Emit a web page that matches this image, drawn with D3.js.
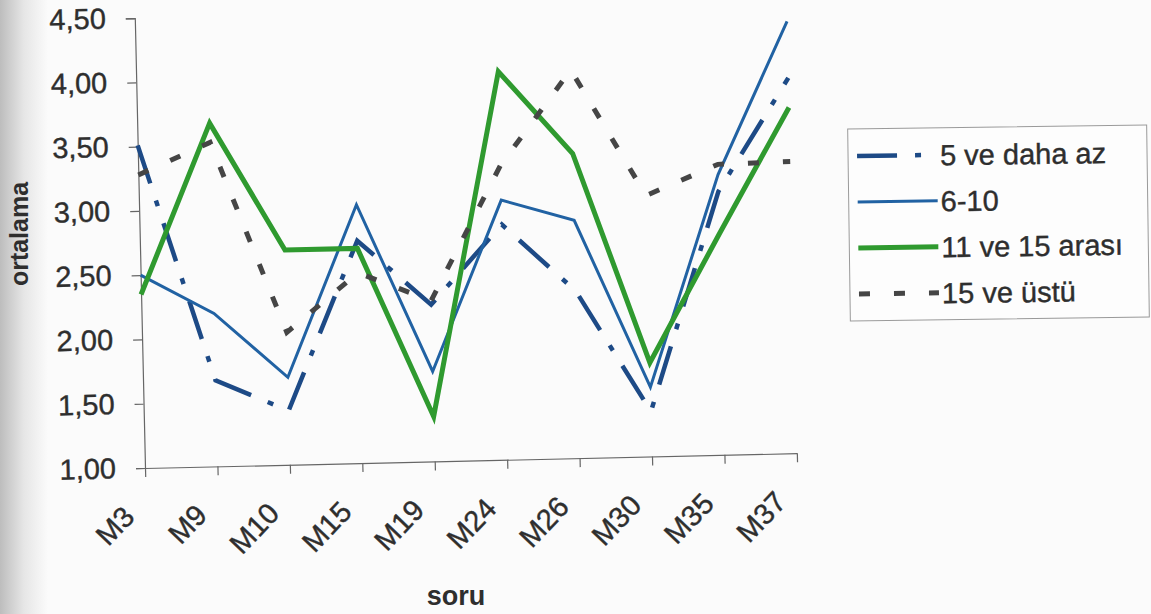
<!DOCTYPE html>
<html><head><meta charset="utf-8">
<script src="https://cdn.jsdelivr.net/npm/d3@7"></script>
<style>html,body{margin:0;padding:0;background:#fbfbfb;}svg{display:block;font-family:Arial,"Liberation Sans",sans-serif;}</style>
</head><body>
<svg id="c" width="1151" height="614"></svg>
<script>
const categories = ["M3","M9","M10","M15","M19","M24","M26","M30","M35","M37"];
const s5veDahaAz = [3.51,1.67,1.42,2.73,2.22,2.83,2.30,1.35,3.05,3.92];
const s6to10     = [2.50,2.19,1.68,3.01,1.70,3.02,2.85,1.54,3.18,4.36];
const s11to15    = [2.35,3.67,2.67,2.67,1.35,4.02,3.37,1.73,2.72,3.69];
const s15Ustu    = [3.28,3.52,2.03,2.48,2.25,3.29,4.02,3.03,3.26,3.27];
const seriesNames = ["5 ve daha az","6-10","11 ve 15 arası","15 ve üstü"];
const yTicks = [1.00,1.50,2.00,2.50,3.00,3.50,4.00,4.50];
const yTitle = "ortalama", xTitle = "soru";

const styles = [
  {color:"#1d4a86", width:4.5, dash:"40,18,6,18"},
  {color:"#2162a3", width:3, dash:null},
  {color:"#2f9a2f", width:5, dash:null},
  {color:"#454545", width:5, dash:"11,24"}
];
const seriesData = [s5veDahaAz, s6to10, s11to15, s15Ustu];
const textColor = "#2e2e2e";

const svg = d3.select("#c");
const defs = svg.append("defs");
const grad = defs.append("linearGradient").attr("id","shade").attr("x1","0").attr("x2","1");
grad.append("stop").attr("offset","0").attr("stop-color","#bdbdbd");
grad.append("stop").attr("offset","0.5").attr("stop-color","#e6e6e6");
grad.append("stop").attr("offset","1").attr("stop-color","#fbfbfb");
svg.append("rect").attr("x",0).attr("y",0).attr("width",1151).attr("height",614).attr("fill","#fbfbfb");
svg.append("rect").attr("x",0).attr("y",0).attr("width",48).attr("height",614).attr("fill","url(#shade)");

const x0 = 145, y0 = 468, x1 = 797, yTop = 18;
const x = d3.scalePoint().domain(categories).range([x0, x1]);
const y = d3.scaleLinear().domain([1, 4.5]).range([y0, yTop]);

const g = svg.append("g").attr("transform", `rotate(-1.3 ${x0} ${y0})`);

// y axis
const yAxis = d3.axisLeft(y).tickValues(yTicks).tickSize(9).tickPadding(20)
  .tickFormat(d => d3.format(".2f")(d).replace(".", ","));
const ya = g.append("g").attr("transform", `translate(${x0},0)`).call(yAxis);
ya.select(".domain").attr("stroke","#666").attr("stroke-width",1.2);
ya.selectAll(".tick line").attr("stroke","#666").attr("stroke-width",1.2);
ya.selectAll(".tick text").attr("font-size",29).attr("fill",textColor)
  .attr("stroke",textColor).attr("stroke-width",0.4)
  .attr("font-family","Arial, 'Liberation Sans', sans-serif");

// x axis
const xAxis = d3.axisBottom(x).tickSize(9).tickSizeOuter(0).tickFormat("");
const xa = g.append("g").attr("transform", `translate(0,${y0})`).call(xAxis);
xa.select(".domain").attr("stroke","#666").attr("stroke-width",1.2);
xa.selectAll(".tick line").attr("stroke","#666").attr("stroke-width",1.2);

g.append("g").selectAll("text").data(categories).join("text")
  .attr("transform", d => `translate(${x(d) - 10},${y0 + 50}) rotate(-45)`)
  .attr("text-anchor","end")
  .attr("font-size",29).attr("fill",textColor)
  .attr("stroke",textColor).attr("stroke-width",0.4)
  .text(d => d);

// lines
const line = d3.line().x((d,i) => x(categories[i])).y(d => y(d));
seriesData.forEach((arr, k) => {
  const st = styles[k];
  g.append("path").datum(arr)
    .attr("d", line)
    .attr("fill","none")
    .attr("stroke", st.color)
    .attr("stroke-width", st.width)
    .attr("stroke-linejoin","miter")
    .attr("stroke-dasharray", st.dash);
});

// axis titles
svg.append("text")
  .attr("transform", "translate(28,234) rotate(-90)")
  .attr("text-anchor","middle")
  .attr("font-size",25).attr("font-weight","bold").attr("fill",textColor)
  .text(yTitle);
svg.append("text")
  .attr("x",456).attr("y",605)
  .attr("text-anchor","middle")
  .attr("font-size",27).attr("font-weight","bold").attr("fill",textColor)
  .text(xTitle);

// legend
const lg = svg.append("g").attr("transform","rotate(-0.8 1000 223)");
lg.append("rect").attr("x",849).attr("y",127).attr("width",299).attr("height",192)
  .attr("fill","#fdfdfd").attr("stroke","#9a9a9a").attr("stroke-width",1);
const rowY = d3.scalePoint().domain(seriesNames).range([154, 292]);
seriesNames.forEach((name, k) => {
  const st = styles[k];
  const yy = rowY(name);
  lg.append("line").attr("x1",858).attr("x2",938).attr("y1",yy).attr("y2",yy)
    .attr("stroke",st.color).attr("stroke-width",st.width).attr("stroke-dasharray",st.dash);
  lg.append("text").attr("x",941).attr("y",yy).attr("dy","0.36em")
    .attr("font-size",29).attr("fill",textColor)
    .attr("stroke",textColor).attr("stroke-width",0.4)
    .text(name);
});
</script>
</body></html>
